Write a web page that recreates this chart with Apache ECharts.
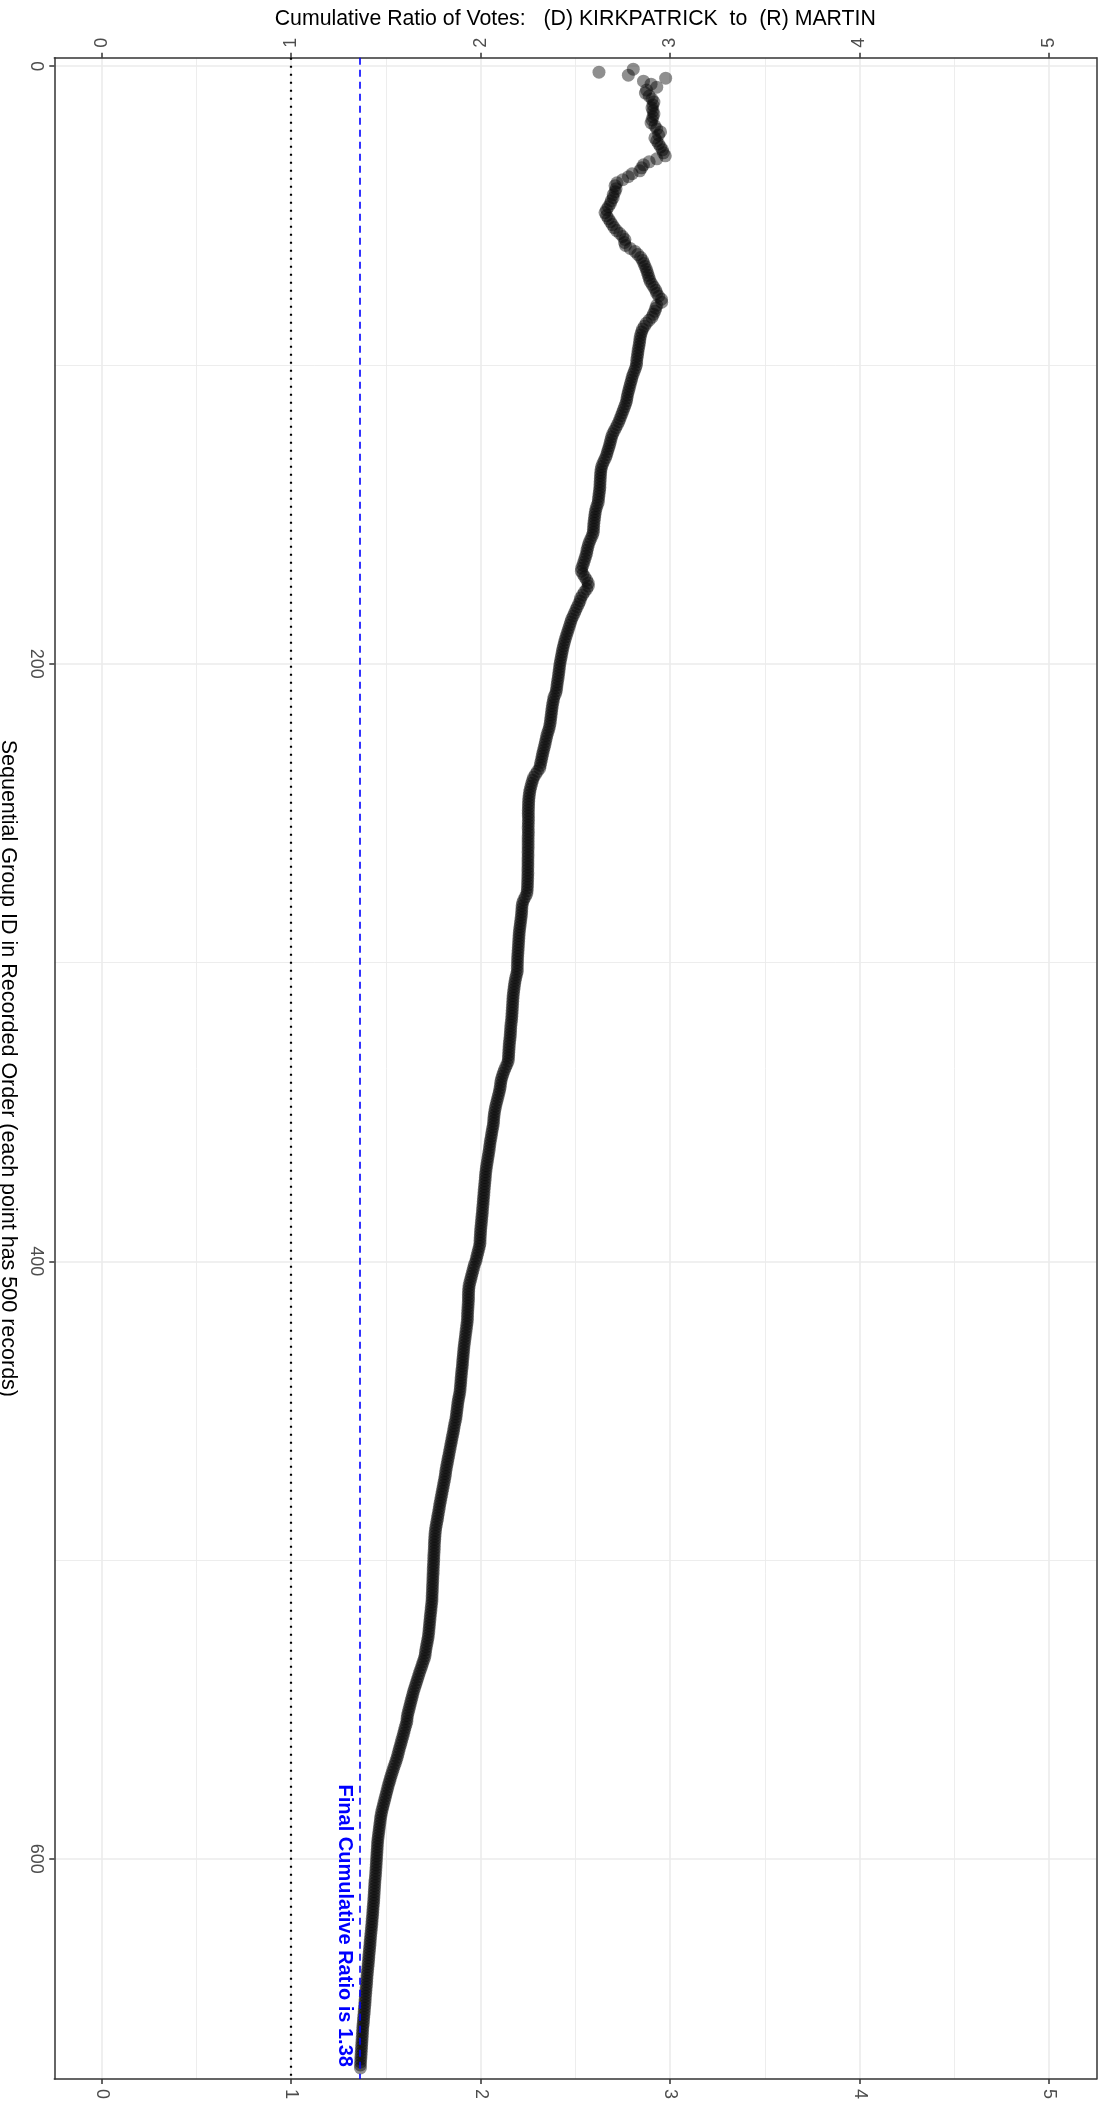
<!DOCTYPE html>
<html><head><meta charset="utf-8">
<script src="https://cdn.jsdelivr.net/npm/echarts@6/dist/echarts.min.js"></script>
<style>html,body{margin:0;padding:0;background:#fff}#c{width:1103px;height:2112px}</style>
</head><body><div id="c"></div>
<script>
const ratioAxisTitle = 'Cumulative Ratio of Votes:   (D) KIRKPATRICK  to  (R) MARTIN';
const groupAxisTitle = 'Sequential Group ID in Recorded Order (each point has 500 records)';
const ratioTicks = [0, 1, 2, 3, 4, 5];
const ratioMinorTicks = [0.5, 1.5, 2.5, 3.5, 4.5];
const groupTicks = [0, 200, 400, 600];
const groupMinorTicks = [100, 300, 500];
const parityRatio = 1;
const finalRatio = 1.365;
const finalLabel = 'Final Cumulative Ratio is 1.38';

// cumulative ratio per group, groups 1..200
const ratioA = [
2.806,2.625,2.78,2.977,2.86,2.90,2.93,2.876,2.87,2.89,
2.905,2.915,2.91,2.905,2.91,2.915,2.91,2.905,2.90,2.92,
2.93,2.95,2.94,2.92,2.93,2.94,2.95,2.96,2.965,2.975,
2.93,2.89,2.86,2.85,2.84,2.80,2.78,2.75,2.72,2.71,
2.715,2.71,2.70,2.70,2.69,2.685,2.675,2.665,2.657,2.665,
2.675,2.685,2.695,2.705,2.718,2.735,2.75,2.762,2.76,2.765,
2.79,2.815,2.83,2.845,2.855,2.862,2.868,2.875,2.88,2.885,
2.89,2.895,2.905,2.915,2.925,2.93,2.94,2.955,2.956,2.93,
2.925,2.92,2.912,2.905,2.89,2.875,2.865,2.855,2.85,2.845,
2.842,2.84,2.838,2.835,2.832,2.83,2.828,2.825,2.824,2.823,
2.818,2.812,2.806,2.80,2.797,2.792,2.788,2.784,2.78,2.776,
2.773,2.771,2.766,2.76,2.754,2.748,2.742,2.736,2.73,2.722,
2.714,2.706,2.698,2.692,2.688,2.684,2.68,2.675,2.67,2.666,
2.66,2.652,2.645,2.639,2.636,2.634,2.633,2.632,2.631,2.63,
2.63,2.628,2.626,2.624,2.622,2.621,2.615,2.61,2.606,2.604,
2.602,2.60,2.598,2.597,2.596,2.595,2.59,2.583,2.576,2.57,
2.566,2.562,2.56,2.555,2.55,2.545,2.54,2.534,2.532,2.54,
2.55,2.56,2.568,2.569,2.56,2.548,2.538,2.528,2.525,2.518,
2.51,2.503,2.496,2.489,2.481,2.476,2.471,2.466,2.461,2.456,
2.451,2.446,2.442,2.438,2.434,2.431,2.428,2.425,2.422,2.419
];
// groups 201..400
const ratioB = [
2.417,2.415,2.413,2.411,2.409,2.406,2.404,2.402,2.40,2.396,
2.388,2.385,2.382,2.379,2.377,2.375,2.373,2.371,2.369,2.367,
2.364,2.36,2.355,2.35,2.347,2.343,2.34,2.336,2.332,2.328,
2.325,2.322,2.318,2.315,2.312,2.30,2.29,2.28,2.275,2.27,
2.266,2.262,2.259,2.257,2.255,2.254,2.253,2.253,2.252,2.252,
2.252,2.253,2.252,2.252,2.251,2.252,2.252,2.251,2.251,2.251,
2.251,2.251,2.25,2.251,2.25,2.25,2.25,2.25,2.249,2.25,
2.249,2.249,2.248,2.248,2.247,2.246,2.244,2.236,2.228,2.222,
2.219,2.218,2.217,2.216,2.214,2.212,2.21,2.208,2.206,2.204,
2.203,2.202,2.201,2.20,2.199,2.198,2.197,2.196,2.195,2.195,
2.194,2.194,2.194,2.19,2.186,2.183,2.18,2.178,2.176,2.174,
2.172,2.171,2.17,2.169,2.168,2.167,2.166,2.165,2.164,2.162,
2.16,2.159,2.158,2.157,2.156,2.154,2.152,2.151,2.15,2.149,
2.148,2.147,2.146,2.14,2.133,2.126,2.12,2.115,2.11,2.107,
2.105,2.103,2.10,2.096,2.092,2.088,2.084,2.08,2.077,2.074,
2.072,2.07,2.069,2.068,2.065,2.062,2.059,2.057,2.054,2.051,
2.049,2.047,2.045,2.042,2.04,2.037,2.035,2.032,2.03,2.028,
2.026,2.025,2.024,2.022,2.021,2.019,2.018,2.017,2.015,2.014,
2.013,2.011,2.01,2.009,2.007,2.006,2.004,2.003,2.001,2.0,
1.999,1.998,1.997,1.997,1.994,1.99,1.986,1.982,1.978,1.975
];
// groups 401..670
const ratioC = [
1.968,1.964,1.96,1.956,1.952,1.948,1.944,1.94,1.938,1.937,
1.936,1.936,1.936,1.935,1.934,1.933,1.932,1.931,1.931,1.93,
1.928,1.926,1.924,1.922,1.92,1.918,1.916,1.914,1.912,1.911,
1.909,1.908,1.906,1.905,1.904,1.902,1.90,1.899,1.897,1.896,
1.895,1.893,1.892,1.89,1.887,1.884,1.881,1.879,1.877,1.875,
1.873,1.871,1.869,1.865,1.862,1.859,1.857,1.853,1.85,1.847,
1.844,1.841,1.838,1.835,1.832,1.829,1.826,1.823,1.82,1.817,
1.815,1.813,1.81,1.807,1.804,1.801,1.798,1.795,1.792,1.789,
1.786,1.783,1.781,1.778,1.775,1.773,1.77,1.767,1.764,1.762,
1.76,1.759,1.758,1.757,1.756,1.756,1.755,1.754,1.753,1.753,
1.752,1.751,1.75,1.75,1.749,1.748,1.748,1.747,1.746,1.746,
1.745,1.744,1.744,1.743,1.741,1.739,1.738,1.736,1.734,1.733,
1.731,1.73,1.728,1.727,1.725,1.723,1.72,1.717,1.714,1.711,
1.709,1.707,1.703,1.697,1.692,1.687,1.681,1.676,1.671,1.666,
1.661,1.656,1.651,1.646,1.642,1.638,1.634,1.63,1.626,1.622,
1.618,1.614,1.612,1.611,1.607,1.602,1.598,1.594,1.59,1.585,
1.581,1.577,1.572,1.568,1.564,1.56,1.555,1.55,1.544,1.539,
1.534,1.529,1.524,1.52,1.515,1.511,1.507,1.503,1.499,1.495,
1.491,1.487,1.483,1.479,1.476,1.473,1.471,1.469,1.467,1.465,
1.463,1.461,1.459,1.457,1.456,1.455,1.454,1.453,1.452,1.451,
1.45,1.449,1.448,1.447,1.446,1.445,1.443,1.442,1.441,1.44,
1.439,1.438,1.437,1.436,1.435,1.433,1.432,1.431,1.43,1.428,
1.427,1.426,1.424,1.423,1.421,1.42,1.418,1.417,1.416,1.414,
1.413,1.411,1.41,1.409,1.407,1.406,1.404,1.403,1.401,1.40,
1.399,1.398,1.396,1.395,1.394,1.392,1.391,1.39,1.389,1.387,
1.386,1.385,1.383,1.382,1.381,1.379,1.378,1.377,1.376,1.375,
1.374,1.373,1.372,1.371,1.37,1.369,1.368,1.367,1.366,1.366
];

const cumulativeRatio = ratioA.concat(ratioB, ratioC);
const points = cumulativeRatio.map((v, i) => [v, i + 1]);

const FONT = '"Liberation Sans", Arial, Helvetica, sans-serif';
const RMIN = -0.25, RMAX = 5.25, GMIN = -2.85, GMAX = 673.7;
const frameColor = '#333333';
const gridColor = '#ebebeb';

const chart = echarts.init(document.getElementById('c'), null, {renderer: 'canvas'});
chart.setOption({
  animation: false,
  backgroundColor: '#ffffff',
  grid: {left: 54.3, top: 57.7, right: 6.7, bottom: 33, containLabel: false, outerBoundsMode: 'none'},
  xAxis: [
    {
      type: 'value', position: 'top', min: RMIN, max: RMAX,
      name: ratioAxisTitle, nameLocation: 'middle', nameGap: 27,
      nameTextStyle: {fontSize: 21.3, color: '#000', fontFamily: FONT},
      axisLine: {show: true, onZero: false, lineStyle: {color: frameColor, width: 1.5}},
      axisTick: {show: true, length: 5, lineStyle: {color: frameColor, width: 1.5}, customValues: ratioTicks},
      axisLabel: {show: true, customValues: ratioTicks, rotate: -90, margin: 10, fontSize: 18, color: '#4d4d4d', fontFamily: FONT},
      splitLine: {show: true, lineStyle: {color: gridColor, width: 1.6}}
    },
    {
      type: 'value', position: 'bottom', min: RMIN, max: RMAX,
      axisLine: {show: true, onZero: false, lineStyle: {color: frameColor, width: 1.5}},
      axisTick: {show: true, length: 5, lineStyle: {color: frameColor, width: 1.5}, customValues: ratioTicks},
      axisLabel: {show: true, customValues: ratioTicks, rotate: -90, margin: 10, fontSize: 18, color: '#4d4d4d', fontFamily: FONT},
      splitLine: {show: false}
    },
    {
      type: 'value', position: 'top', min: RMIN, max: RMAX,
      axisLine: {show: false, onZero: false},
      axisTick: {show: false, customValues: ratioMinorTicks},
      axisLabel: {show: false, customValues: ratioMinorTicks},
      splitLine: {show: true, lineStyle: {color: gridColor, width: 0.9}}
    }
  ],
  yAxis: [
    {
      type: 'value', position: 'left', inverse: true, min: GMIN, max: GMAX,
      name: groupAxisTitle, nameLocation: 'middle', nameGap: 29, nameRotate: -90,
      nameTextStyle: {fontSize: 21.5, color: '#000', fontFamily: FONT},
      axisLine: {show: true, onZero: false, lineStyle: {color: frameColor, width: 1.5}},
      axisTick: {show: true, length: 5, lineStyle: {color: frameColor, width: 1.5}, customValues: groupTicks},
      axisLabel: {show: true, customValues: groupTicks, rotate: -90, margin: 9, fontSize: 18, color: '#4d4d4d', fontFamily: FONT},
      splitLine: {show: true, lineStyle: {color: gridColor, width: 1.6}}
    },
    {
      type: 'value', position: 'right', inverse: true, min: GMIN, max: GMAX,
      axisLine: {show: true, onZero: false, lineStyle: {color: frameColor, width: 1.5}},
      axisTick: {show: false, customValues: groupMinorTicks},
      axisLabel: {show: false, customValues: groupMinorTicks},
      splitLine: {show: true, lineStyle: {color: gridColor, width: 0.9}}
    }
  ],
  series: [
    {
      type: 'scatter', xAxisIndex: 0, yAxisIndex: 0,
      data: points, symbol: 'circle', symbolSize: 13,
      itemStyle: {color: 'rgba(0,0,0,0.55)'},
      clip: false, silent: true,
      markLine: {
        silent: true, symbol: 'none', label: {show: false},
        data: [
          {xAxis: parityRatio, lineStyle: {color: '#000000', type: [2, 6], width: 2.2}},
          {xAxis: finalRatio, lineStyle: {color: '#0000ff', type: [7, 5], width: 1.6}}
        ]
      },
      markPoint: {
        silent: true,
        data: [{
          coord: [1.28, 622.4], symbol: 'circle', symbolSize: 0,
          label: {show: true, position: 'inside', formatter: finalLabel, rotate: -90,
                  fontSize: 20, fontWeight: 'bold', color: '#0000ff', fontFamily: FONT}
        }]
      }
    }
  ]
});
</script>
</body></html>
